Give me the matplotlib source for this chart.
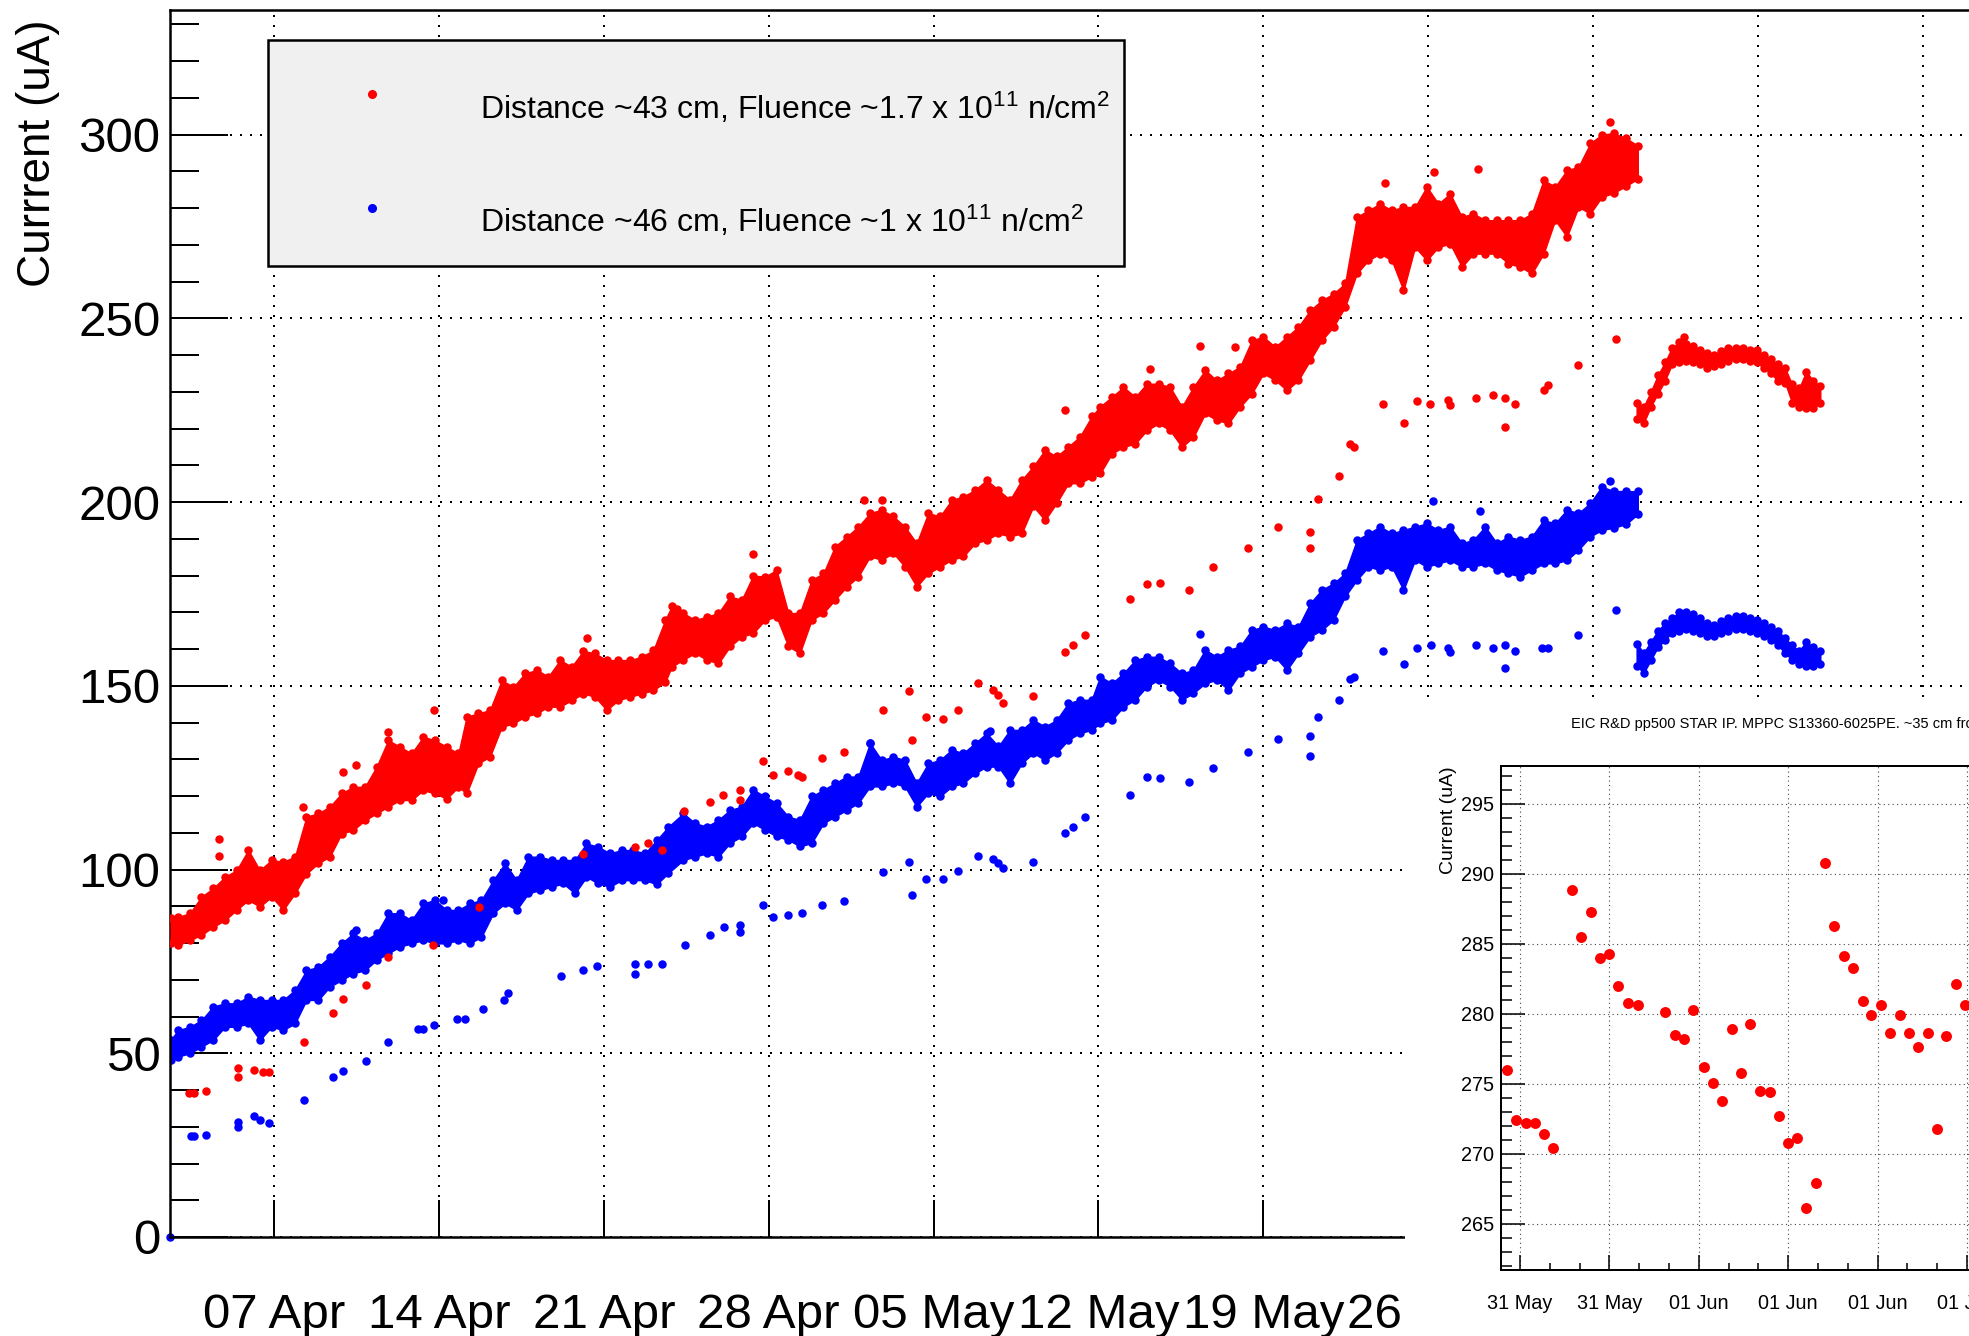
import matplotlib
matplotlib.use("Agg")
import matplotlib.pyplot as plt
from matplotlib.patches import Rectangle
from matplotlib.lines import Line2D
from matplotlib.ticker import MultipleLocator, NullLocator

plt.rcParams["font.family"] = ["Liberation Sans", "DejaVu Sans"]
plt.rcParams["mathtext.fontset"] = "custom"
plt.rcParams["mathtext.rm"] = "Liberation Sans"
plt.rcParams["mathtext.it"] = "Liberation Sans:italic"
plt.rcParams["mathtext.bf"] = "Liberation Sans:bold"

# ---------------------------------------------------------------- main graph
# time axis: days since 07 Apr 00:00; weeks after 26 May sit under the zoomed graph
week_day = [0, 7, 14, 21, 28, 35, 42, 49, 56, 63, 70, 77]
week_label = ["07 Apr", "14 Apr", "21 Apr", "28 Apr", "05 May", "12 May",
              "19 May", "26 May", "", "", "", ""]

legend_labels = [r"Distance ~43 cm, Fluence ~1.7 x 10$^{11}$ n/cm$^{2}$",
                 r"Distance ~46 cm, Fluence ~1 x 10$^{11}$ n/cm$^{2}$"]

# dense running readout: lowest / highest current seen in each half-day slice
red_band_day = [
    -4.40, -4.08, -3.58, -3.09, -2.59, -2.09, -1.60, -1.10, -0.61, -0.11,
    0.38, 0.88, 1.37, 1.87, 2.36, 2.86, 3.35, 3.85, 4.35, 4.84,
    5.34, 5.83, 6.33, 6.82, 7.32, 7.82, 8.17, 8.67, 9.16, 9.66,
    10.16, 10.65, 11.15, 11.64, 12.14, 12.63, 13.13, 13.62, 14.12, 14.61,
    15.11, 15.60, 16.10, 16.60, 16.88, 17.37, 17.87, 18.36, 18.86, 19.35,
    19.85, 20.34, 20.84, 21.33, 21.83, 22.32, 22.82, 23.32, 23.81, 24.31,
    24.80, 25.30, 25.79, 26.29, 26.78, 27.28, 27.77, 28.27, 28.77, 29.26,
    29.76, 30.25, 30.75, 31.24, 31.74, 32.23, 32.73, 33.22, 33.72, 34.21,
    34.71, 35.07, 35.57, 36.06, 36.56, 37.05, 37.55, 38.04, 38.54, 39.03,
    39.53, 40.02, 40.52, 41.01, 41.51, 42.00, 42.50, 43.00, 43.49, 43.99,
    44.48, 44.98, 45.47, 45.97, 46.46, 46.96, 47.45, 47.95, 48.44, 48.94,
    49.43, 49.93, 50.43, 50.92, 51.42, 51.91, 52.41, 52.90, 53.40, 53.90,
    54.39, 54.89, 55.38, 55.88, 56.37, 56.87, 57.40, 57.90]
red_band_lo = [
    79.9, 79.4, 80.8, 82.2, 84.4, 86.2, 89.0, 91.7, 89.9, 92.6,
    89.0, 93.5, 98.9, 101.7, 103.5, 109.8, 110.7, 113.4, 115.3, 117.1,
    118.9, 118.9, 121.6, 120.7, 119.3, 122.5, 120.7, 128.9, 130.7, 138.8,
    139.8, 141.6, 142.5, 144.3, 144.3, 146.1, 147.9, 147.0, 143.4, 146.1,
    147.0, 147.9, 148.8, 151.0, 155.2, 157.1, 158.9, 157.1, 156.1, 160.7,
    163.4, 164.3, 167.9, 168.8, 160.7, 158.9, 167.9, 169.8, 173.4, 177.0,
    179.7, 185.2, 184.3, 186.1, 182.4, 177.0, 180.6, 182.4, 184.3, 185.2,
    188.8, 189.7, 191.5, 190.6, 191.5, 198.8, 195.1, 199.7, 205.1, 205.1,
    206.9, 207.8, 213.2, 215.0, 215.9, 219.5, 221.4, 219.5, 215.0, 217.7,
    224.1, 222.3, 221.4, 225.9, 229.5, 235.0, 233.2, 230.4, 233.2, 238.6,
    244.0, 247.7, 253.1, 262.2, 265.8, 267.6, 265.8, 257.6, 269.4, 265.8,
    269.4, 270.3, 264.0, 267.6, 267.6, 267.6, 264.9, 264.0, 262.2, 267.6,
    276.7, 272.2, 280.3, 278.5, 283.0, 284.1, 286.0, 288.0]
red_band_hi = [
    86.7, 87.1, 88.1, 92.6, 94.9, 98.0, 99.8, 105.3, 99.8, 102.6,
    102.1, 103.5, 114.4, 115.3, 117.1, 120.7, 122.5, 122.5, 128.0, 135.2,
    133.4, 131.6, 136.1, 135.2, 133.4, 131.6, 141.6, 142.5, 143.4, 151.5,
    149.7, 153.4, 154.3, 152.5, 157.0, 155.2, 159.5, 158.8, 157.0, 157.0,
    157.0, 157.9, 159.7, 167.9, 171.6, 169.8, 167.9, 168.8, 169.8, 174.3,
    173.4, 180.0, 179.7, 181.5, 169.8, 169.8, 178.8, 180.6, 187.9, 190.6,
    193.3, 197.0, 197.9, 196.1, 193.3, 188.8, 197.0, 196.1, 200.6, 201.5,
    203.3, 206.0, 203.3, 200.6, 206.0, 209.7, 214.2, 212.4, 215.1, 217.8,
    223.3, 226.0, 228.6, 231.3, 228.6, 232.2, 232.2, 231.3, 225.9, 231.3,
    235.9, 233.1, 235.0, 236.8, 244.0, 245.0, 242.2, 245.0, 247.7, 252.2,
    254.9, 256.7, 259.5, 277.6, 279.4, 281.2, 279.4, 280.3, 280.3, 285.8,
    281.2, 283.9, 277.6, 278.5, 276.7, 276.7, 276.7, 276.7, 278.5, 287.6,
    285.8, 290.3, 291.2, 297.6, 300.0, 300.4, 299.0, 297.0]

blue_band_day = [
    -4.40, -4.08, -3.58, -3.09, -2.59, -2.09, -1.60, -1.10, -0.61, -0.11,
    0.38, 0.88, 1.37, 1.87, 2.36, 2.86, 3.35, 3.85, 4.35, 4.84,
    5.34, 5.83, 6.33, 6.82, 7.32, 7.82, 8.31, 8.80, 9.30, 9.80,
    10.29, 10.79, 11.28, 11.78, 12.27, 12.77, 13.26, 13.76, 14.25, 14.75,
    15.24, 15.74, 16.24, 16.73, 17.37, 17.87, 18.36, 18.86, 19.35, 19.85,
    20.34, 20.84, 21.33, 21.83, 22.32, 22.82, 23.32, 23.81, 24.31, 24.80,
    25.30, 25.79, 26.29, 26.78, 27.28, 27.77, 28.27, 28.77, 29.26, 29.76,
    30.25, 30.75, 31.24, 31.74, 32.23, 32.73, 33.22, 33.72, 34.21, 34.71,
    35.07, 35.57, 36.06, 36.56, 37.05, 37.55, 38.04, 38.54, 39.03, 39.53,
    40.02, 40.52, 41.01, 41.51, 42.00, 42.50, 43.00, 43.49, 43.99, 44.48,
    44.98, 45.47, 45.97, 46.46, 46.96, 47.45, 47.95, 48.44, 48.94, 49.43,
    49.93, 50.43, 50.92, 51.42, 51.91, 52.41, 52.90, 53.40, 53.90, 54.39,
    54.89, 55.38, 55.88, 56.37, 56.87, 57.40, 57.90]
blue_band_lo = [
    48.1, 49.1, 50.0, 51.8, 53.6, 57.2, 57.2, 58.1, 53.6, 57.2,
    56.3, 58.1, 64.5, 64.5, 68.1, 69.9, 71.7, 72.6, 75.4, 77.2,
    79.0, 79.9, 80.8, 79.9, 79.9, 80.8, 79.9, 81.7, 88.1, 90.8,
    89.0, 93.5, 94.4, 95.3, 96.2, 93.5, 98.0, 96.2, 95.3, 97.1,
    97.1, 97.1, 96.0, 99.0, 102.6, 103.5, 104.4, 103.5, 107.2, 109.0,
    112.6, 110.8, 109.0, 108.1, 106.3, 107.2, 112.6, 114.4, 116.2, 118.1,
    122.6, 122.6, 123.5, 122.6, 117.1, 120.8, 119.9, 122.6, 123.5, 126.2,
    128.0, 128.0, 123.5, 128.9, 131.7, 129.8, 131.7, 135.3, 137.1, 138.0,
    139.8, 140.7, 144.3, 146.2, 149.8, 151.6, 149.8, 146.2, 148.0, 150.7,
    151.6, 148.9, 153.4, 155.2, 157.0, 157.9, 154.3, 158.8, 163.4, 165.2,
    167.9, 174.3, 178.8, 182.4, 181.5, 182.4, 176.1, 184.2, 182.4, 183.3,
    184.2, 182.4, 182.4, 183.3, 181.5, 180.6, 179.7, 181.5, 183.3, 183.3,
    184.2, 187.0, 190.6, 192.4, 193.0, 194.0, 196.7]
blue_band_hi = [
    53.6, 56.3, 57.2, 59.0, 62.7, 63.6, 63.6, 65.4, 64.5, 64.5,
    64.5, 67.2, 72.6, 73.5, 76.3, 79.9, 82.6, 80.8, 82.6, 88.1,
    88.1, 86.2, 90.8, 91.7, 89.0, 89.0, 90.8, 91.7, 97.1, 101.7,
    97.1, 103.5, 103.5, 102.6, 102.6, 102.6, 107.1, 106.2, 104.4, 105.3,
    105.3, 104.4, 108.0, 111.6, 115.3, 112.6, 111.7, 113.5, 116.2, 117.1,
    121.7, 119.9, 118.1, 114.4, 113.5, 119.9, 121.7, 123.5, 125.3, 125.3,
    134.4, 129.8, 130.7, 129.8, 123.5, 128.9, 129.8, 132.6, 131.7, 134.4,
    137.1, 133.5, 138.0, 138.0, 140.7, 138.9, 140.7, 145.3, 146.2, 146.2,
    152.5, 150.7, 153.4, 157.0, 157.9, 157.9, 156.1, 153.4, 154.3, 159.8,
    157.9, 159.8, 160.7, 165.2, 166.1, 165.2, 167.0, 166.1, 172.5, 176.1,
    177.9, 180.6, 189.7, 191.5, 193.3, 191.5, 192.4, 193.3, 194.2, 192.4,
    193.3, 188.8, 189.7, 193.3, 188.8, 190.6, 189.7, 190.6, 195.1, 194.2,
    197.9, 197.0, 199.7, 204.2, 203.0, 203.0, 202.9]

# readout after the change at the end of May
late_day = [57.85, 58.15, 58.45, 58.75, 59.05, 59.35, 59.65, 59.95, 60.25,
            60.55, 60.85, 61.15, 61.45, 61.75, 62.05, 62.35, 62.65, 62.95,
            63.25, 63.55, 63.85, 64.15, 64.45, 64.75, 65.05, 65.35, 65.65]
red_late_lo = [222.5, 221.5, 226.0, 229.5, 233.0, 237.5, 238.0, 238.5, 238.0,
               237.5, 236.5, 237.0, 237.5, 238.5, 239.0, 239.0, 238.5, 238.0,
               236.5, 235.0, 233.0, 232.5, 227.0, 226.0, 225.5, 225.5, 227.0]
red_late_hi = [227.0, 226.0, 230.0, 234.5, 238.0, 242.0, 243.5, 243.0, 242.5,
               241.5, 240.5, 240.0, 241.0, 242.0, 242.0, 242.0, 241.5, 241.5,
               240.0, 239.0, 237.5, 236.5, 232.0, 231.0, 235.5, 233.0, 231.5]
blue_late_lo = [155.5, 153.5, 157.0, 160.5, 162.5, 164.5, 165.0, 165.5, 165.0,
                164.5, 163.5, 163.5, 164.5, 165.0, 165.5, 165.5, 165.0, 164.5,
                163.5, 162.5, 161.0, 159.0, 157.0, 156.0, 155.5, 155.5, 156.0]
blue_late_hi = [161.5, 159.0, 162.0, 165.0, 167.0, 168.5, 170.0, 170.0, 169.5,
                168.5, 167.0, 166.5, 167.5, 168.5, 169.0, 169.0, 168.5, 168.0,
                167.0, 166.0, 165.0, 163.0, 161.0, 159.5, 162.0, 160.5, 159.5]

# isolated readings sticking out of the running readout
red_spike_day = [-2.34, -2.34, 1.23, 2.90, 3.46, 4.84, 6.78, 13.27, 17.10, 20.34,
                 25.06, 25.80, 33.58, 37.20, 39.29, 40.80, 47.15, 49.23, 51.13,
                 56.70, 59.86]
red_spike_val = [108.2, 103.8, 116.9, 126.6, 128.5, 137.3, 143.5, 162.9, 171.0, 185.8,
                 200.6, 200.6, 225.1, 236.3, 242.5, 242.2, 286.9, 289.7, 290.5,
                 303.5, 244.8]
blue_spike_day = [3.47, 7.18, 25.30, 30.39, 39.29, 49.22, 51.18, 56.70]
blue_spike_val = [83.5, 91.7, 134.4, 137.6, 164.1, 200.3, 197.6, 205.6]

# low-current readings taken between fills
red_low_day = [-3.63, -3.39, -2.90, -1.52, -1.52, -0.87, -0.46, -0.22, 1.25, 2.50,
               2.92, 3.88, 4.84, 6.75, 8.70, 13.10, 15.30, 15.88, 16.45, 17.40,
               18.50, 19.07, 19.78, 19.78, 20.77, 21.19, 21.83, 22.25, 22.40, 23.24,
               24.20, 25.86, 26.97, 27.07, 27.66, 28.41, 29.05, 29.90, 30.53, 30.74,
               30.96, 32.23, 33.58, 33.93, 34.43, 36.35, 37.05, 37.61, 38.86, 39.85,
               41.37, 42.61, 43.99, 43.99, 44.30, 45.23, 45.69, 45.83, 47.07, 47.98,
               48.54, 49.08, 49.86, 49.93, 51.04, 51.74, 52.28, 52.28, 52.69, 53.90,
               54.10, 55.34, 56.97]
red_low_val = [39.2, 39.2, 39.7, 46.0, 43.6, 45.5, 45.0, 45.0, 53.0, 61.0,
               64.7, 68.5, 76.2, 79.4, 89.8, 104.3, 106.1, 107.1, 105.4, 115.9,
               118.5, 120.3, 121.7, 119.0, 129.4, 125.8, 126.7, 125.8, 125.3, 130.3,
               132.1, 143.4, 148.7, 135.3, 141.6, 140.9, 143.4, 150.7, 148.9, 147.5,
               145.3, 147.1, 159.3, 161.1, 163.9, 173.6, 177.7, 178.1, 176.0, 182.4,
               187.6, 193.1, 191.9, 187.6, 200.7, 207.0, 215.9, 215.0, 226.6, 221.6,
               227.4, 226.6, 227.7, 226.3, 228.4, 229.1, 228.4, 220.5, 226.6, 230.6,
               231.8, 237.2, 244.5]
blue_low_day = [-4.42, -3.55, -3.39, -2.90, -1.52, -1.52, -0.87, -0.62, -0.22, 1.25,
                2.48, 2.90, 3.88, 4.84, 6.12, 6.30, 6.79, 7.78, 8.12, 8.87,
                9.74, 9.94, 12.19, 13.13, 13.70, 15.32, 15.32, 15.89, 16.47, 17.45,
                18.52, 19.09, 19.77, 19.77, 20.77, 21.19, 21.83, 22.40, 23.24, 24.20,
                25.86, 26.97, 27.07, 27.66, 28.41, 29.05, 29.90, 30.53, 30.74, 30.96,
                32.23, 33.58, 33.93, 34.43, 36.35, 37.07, 37.61, 38.86, 39.85, 41.37,
                42.61, 43.99, 43.99, 44.30, 45.23, 45.69, 45.83, 47.07, 47.98, 48.54,
                49.11, 49.86, 49.93, 51.04, 51.74, 52.28, 52.28, 52.69, 53.82, 54.10,
                55.34, 56.97]
blue_low_val = [0.0, 27.5, 27.5, 27.7, 31.4, 29.9, 32.9, 31.9, 30.9, 37.3,
                43.6, 45.2, 47.8, 53.0, 56.6, 56.6, 57.7, 59.2, 59.2, 62.0,
                64.6, 66.5, 71.0, 72.6, 73.7, 74.3, 71.6, 74.2, 74.3, 79.5,
                82.3, 84.4, 84.9, 83.1, 90.4, 87.2, 87.7, 88.1, 90.4, 91.3,
                99.2, 102.0, 93.1, 97.5, 97.5, 99.5, 103.7, 102.8, 101.7, 100.4,
                102.0, 109.9, 111.7, 114.2, 120.4, 125.3, 124.9, 123.9, 127.6, 131.9,
                135.5, 136.4, 131.0, 141.6, 146.2, 151.8, 152.5, 159.6, 155.9, 160.2,
                161.1, 160.2, 159.3, 161.1, 160.2, 161.1, 154.9, 159.6, 160.2, 160.2,
                163.8, 170.6]

# ---------------------------------------------------------------- zoomed graph
# hours since 31 May 12:00 (ticks further right fall outside the canvas)
inset_tick_hour = [0, 6, 12, 18, 24, 30, 36, 42, 48, 54]
inset_tick_label = ["31 May", "31 May", "01 Jun", "01 Jun", "01 Jun", "01 Jun",
                    "", "", "", ""]
inset_hour = [-0.85, -0.25, 0.38, 0.98, 1.61, 2.24, 3.50, 4.12, 4.75, 5.36,
              5.98, 6.61, 7.24, 7.90, 9.76, 10.38, 11.01, 11.64, 12.32, 12.95,
              13.58, 14.21, 14.83, 15.46, 16.09, 16.75, 17.35, 17.98, 18.56, 19.21,
              19.84, 20.47, 21.10, 21.72, 22.38, 23.00, 23.59, 24.24, 24.84, 25.47,
              26.12, 26.73, 27.38, 28.00, 28.60, 29.24, 29.87]
inset_current = [276.0, 272.4, 272.2, 272.2, 271.4, 270.4, 288.85, 285.5, 287.3, 284.0,
                 284.3, 282.0, 280.8, 280.6, 280.1, 278.5, 278.2, 280.3, 276.2, 275.05,
                 273.8, 278.9, 275.8, 279.3, 274.5, 274.4, 272.7, 270.8, 271.1, 266.1,
                 267.9, 290.8, 286.3, 284.1, 283.3, 280.9, 279.9, 280.6, 278.6, 279.9,
                 278.65, 277.6, 278.6, 271.75, 278.4, 282.1, 280.6]
inset_title = "EIC R&D pp500 STAR IP. MPPC S13360-6025PE. ~35 cm from beam pipe"

# ---------------------------------------------------------------- layout
W, H = 1969, 1336
fig = plt.figure(figsize=(W / 100, H / 100), dpi=100)
fig.patch.set_facecolor("white")


def fx(x):
    return x / W


def fy(y):
    return 1 - y / H


def pix_box(x0, y0, x1, y1):
    return [fx(x0), fy(y1), (x1 - x0) / W, (y1 - y0) / H]


RED = "#ff0000"
BLUE = "#0000ff"
MAIN_S = 37

ax = fig.add_axes(pix_box(169.5, 10, 2130, 1237), zorder=1)
ax.set_xlim(-4.446, 78.8)
ax.set_ylim(0, 333.9)
ax.set_axisbelow(True)
ax.grid(True, which="major", color="black", linestyle=(0, (1, 4)), linewidth=1.44)
for sp in ax.spines.values():
    sp.set_linewidth(1.8)
ax.set_xticks(week_day, labels=week_label)
ax.xaxis.set_minor_locator(NullLocator())
ax.yaxis.set_major_locator(MultipleLocator(50))
ax.yaxis.set_minor_locator(MultipleLocator(10))
ax.tick_params(axis="both", which="both", direction="in", top=False, right=False,
               width=1.44, colors="black")
ax.tick_params(axis="y", which="major", length=42, labelsize=35.5, pad=6.5)
ax.tick_params(axis="y", which="minor", length=21)
ax.tick_params(axis="x", which="major", length=26.6, labelsize=35.5, pad=40)


def draw_band(day, lo, hi, color, z):
    ax.fill_between(day, lo, hi, facecolor=color, edgecolor=color, linewidth=1.0, zorder=z)
    ax.scatter(day, lo, s=MAIN_S, c=color, linewidths=0, zorder=z)
    ax.scatter(day, hi, s=MAIN_S, c=color, linewidths=0, zorder=z)


for (bd, blo, bhi, ld, llo, lhi, sd, sv, pd, pv, col, z) in [
        (blue_band_day, blue_band_lo, blue_band_hi, late_day, blue_late_lo, blue_late_hi,
         blue_spike_day, blue_spike_val, blue_low_day, blue_low_val, BLUE, 2),
        (red_band_day, red_band_lo, red_band_hi, late_day, red_late_lo, red_late_hi,
         red_spike_day, red_spike_val, red_low_day, red_low_val, RED, 3)]:
    draw_band(bd, blo, bhi, col, z)
    draw_band(ld, llo, lhi, col, z)
    ax.scatter(sd, sv, s=MAIN_S, c=col, linewidths=0, zorder=z)
    ax.scatter(pd, pv, s=MAIN_S, c=col, linewidths=0, zorder=z, clip_on=False)

fig.text(fx(38), fy(19), "Currrent (uA)", rotation=90, ha="center", va="top",
         fontsize=33)

# legend box
fig.add_artist(Rectangle((fx(267.5), fy(266)), (1124 - 267.5) / W, (266 - 40) / H,
                         transform=fig.transFigure, facecolor="#f0f0f0",
                         edgecolor="black", linewidth=1.8, zorder=5))
for (my, ty, col, lab) in [(94, 119, RED, legend_labels[0]),
                           (208, 232, BLUE, legend_labels[1])]:
    fig.add_artist(Line2D([fx(372)], [fy(my)], marker="o", markersize=5.5, color=col,
                          linestyle="none", transform=fig.transFigure, zorder=6))
    fig.text(fx(480), fy(ty), lab, fontsize=23, ha="left", va="baseline", zorder=6)

# white pad behind the zoomed graph
fig.add_artist(Rectangle((fx(1405), 0), (W - 1405) / W, fy(703),
                         transform=fig.transFigure, facecolor="white",
                         edgecolor="none", zorder=1.5))

ax2 = fig.add_axes(pix_box(1501, 766, 2400, 1270), zorder=2)
ax2.set_xlim(-1.275, 59.06)
ax2.set_ylim(261.7, 297.7)
ax2.set_axisbelow(True)
ax2.grid(True, which="major", color="#444444", linestyle=(0, (1, 3)), linewidth=0.8)
for sp in ax2.spines.values():
    sp.set_linewidth(1.44)
ax2.set_xticks(inset_tick_hour, labels=inset_tick_label)
ax2.xaxis.set_minor_locator(MultipleLocator(2))
ax2.yaxis.set_major_locator(MultipleLocator(5))
ax2.yaxis.set_minor_locator(MultipleLocator(1))
ax2.tick_params(axis="both", which="both", direction="in", top=False, right=False,
                width=1.1, colors="black")
ax2.tick_params(axis="y", which="major", length=17, labelsize=14.3, pad=5)
ax2.tick_params(axis="y", which="minor", length=8)
ax2.tick_params(axis="x", which="major", length=11, labelsize=14.3, pad=17)
ax2.tick_params(axis="x", which="minor", length=5)
ax2.scatter(inset_hour, inset_current, s=62, c=RED, linewidths=0, zorder=3)

fig.text(fx(1571), fy(724), inset_title, fontsize=10.5, ha="left", va="center", zorder=3)
fig.text(fx(1448), fy(766), "Current (uA)", rotation=90, ha="center", va="top",
         fontsize=14, zorder=3)

fig.savefig("out.png", dpi=100)
